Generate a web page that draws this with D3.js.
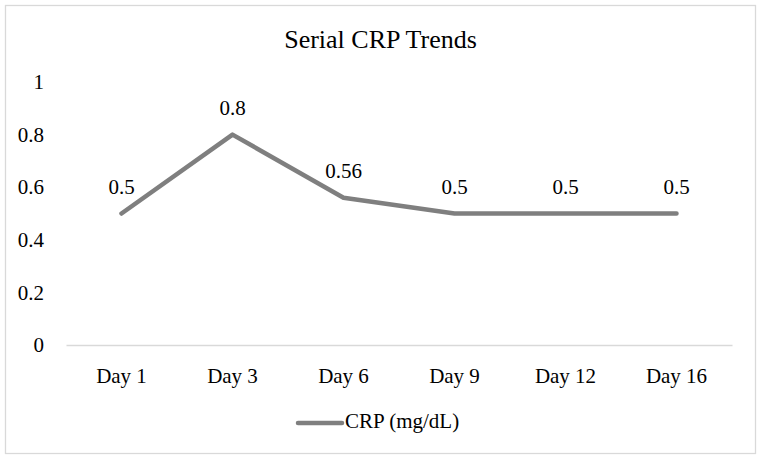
<!DOCTYPE html>
<html>
<head>
    <meta charset="utf-8">
    <title>Serial CRP Trends</title>
    <script src="https://d3js.org/d3.v7.min.js"></script>
</head>
<style>
    body {
        margin: 0;
        background: #fff;
    }

    svg text {
        font-family: "Liberation Serif", "DejaVu Serif", serif;
        fill: #000;
    }
</style>
<body>
    <svg class="chart"></svg>
</body>
<script>
    // data
    var days = ["Day 1", "Day 3", "Day 6", "Day 9", "Day 12", "Day 16"];
    var crpValues = [0.5, 0.8, 0.56, 0.5, 0.5, 0.5];
    var yTicks = [0, 0.2, 0.4, 0.6, 0.8, 1];
    var seriesName = "CRP (mg/dL)";
    var title = "Serial CRP Trends";

    var width = 761;
    var height = 461;
    var lineColor = "#7f7f7f";
    var serif = "'Liberation Serif', 'DejaVu Serif', serif";

    var svg = d3.select(".chart")
        .attr("width", width)
        .attr("height", height);

    // outer border
    svg.append("rect")
        .attr("x", 5.5)
        .attr("y", 5.5)
        .attr("width", 750)
        .attr("height", 448)
        .attr("fill", "#fff")
        .attr("stroke", "#d9d9d9")
        .attr("stroke-width", 1.3);

    var xChart = d3.scaleBand()
        .domain(days)
        .range([66, 732]);

    var yChart = d3.scaleLinear()
        .domain([0, 1])
        .range([345, 82]);

    // title
    svg.append("text")
        .attr("x", width / 2)
        .attr("y", 48)
        .attr("text-anchor", "middle")
        .style("font-family", serif)
        .style("font-size", "26px")
        .text(title);

    // left axis (labels only)
    var yAxis = d3.axisLeft(yChart)
        .tickValues(yTicks)
        .tickFormat(d3.format("~g"))
        .tickSize(0)
        .tickPadding(22);

    var yG = svg.append("g")
        .attr("transform", "translate(66,0)")
        .call(yAxis)
        .attr("font-family", serif);
    yG.select(".domain").remove();
    yG.selectAll("text")
        .style("font-family", serif)
        .style("font-size", "21px")
        .attr("fill", "#000");

    // bottom axis
    var xAxis = d3.axisBottom(xChart)
        .tickSize(0)
        .tickSizeOuter(0)
        .tickPadding(23);

    var xG = svg.append("g")
        .attr("transform", "translate(0," + yChart(0) + ")")
        .call(xAxis)
        .attr("font-family", serif);
    xG.select(".domain")
        .attr("stroke", "#d9d9d9")
        .attr("stroke-width", 1.5);
    xG.selectAll("text")
        .style("font-family", serif)
        .style("font-size", "21px")
        .attr("fill", "#000");

    // the line
    var line = d3.line()
        .x(function(d, i) { return xChart(days[i]) + xChart.bandwidth() / 2; })
        .y(function(d) { return yChart(d); });

    svg.append("path")
        .datum(crpValues)
        .attr("d", line)
        .attr("fill", "none")
        .attr("stroke", lineColor)
        .attr("stroke-width", 4.5)
        .attr("stroke-linecap", "round")
        .attr("stroke-linejoin", "round");

    // data labels
    svg.selectAll(".label")
        .data(crpValues)
        .enter()
        .append("text")
        .attr("class", "label")
        .attr("x", function(d, i) { return xChart(days[i]) + xChart.bandwidth() / 2; })
        .attr("y", function(d) { return yChart(d) - 20; })
        .attr("text-anchor", "middle")
        .style("font-family", serif)
        .style("font-size", "21px")
        .text(function(d) { return d; });

    // legend
    var legend = svg.append("g")
        .attr("transform", "translate(298,423)");
    legend.append("line")
        .attr("x1", 0)
        .attr("x2", 44)
        .attr("stroke", lineColor)
        .attr("stroke-width", 4.5)
        .attr("stroke-linecap", "round");
    legend.append("text")
        .attr("x", 47)
        .attr("y", 5)
        .style("font-family", serif)
        .style("font-size", "21px")
        .text(seriesName);
</script>
</html>
